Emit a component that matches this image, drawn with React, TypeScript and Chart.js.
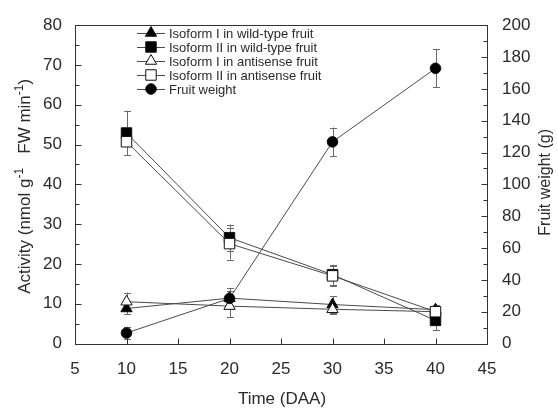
import React, { useEffect, useRef } from 'react';
import { Chart, registerables } from 'chart.js';
import { drawPoint } from 'chart.js/helpers';

Chart.register(...registerables);

// ---- data ----
const days = [10, 20, 30, 40];
const isoIWild = [8.8, 11.4, 9.8, 8.5];
const isoIWildErr = [1.5, 2.6, 2.1, 1.3];
const isoIIWild = [52.9, 26.6, 17.3, 5.8];
const isoIIWildErr = [5.6, 3.3, 2.5, 2.5];
const isoIAnti = [10.5, 9.4, 8.6, 8.0];
const isoIAntiErr = [2.3, 2.8, 1.3, 1.5];
const isoIIAnti = [50.7, 25.1, 17.0, 8.0];
const isoIIAntiErr = [3.3, 4.0, 2.6, 1.8];
const fruitWeight = [6.6, 28.3, 126.7, 172.9];
const fruitWeightErr = [4, 5, 9, 12];

const seriesNames = [
  'Isoform I in wild-type fruit',
  'Isoform II in wild-type fruit',
  'Isoform I in antisense fruit',
  'Isoform II in antisense fruit',
  'Fruit weight',
];

const FONT = "'Liberation Sans', Arial, Helvetica, sans-serif";
const TEXT = '#2a2a2a';
const LINE = '#4a4a4a';

const toXY = (vals: number[]) => vals.map((v, i) => ({ x: days[i], y: v }));

const errorBars = {
  id: 'errorBars',
  beforeDatasetsDraw(chart: any) {
    const { ctx } = chart;
    ctx.save();
    ctx.strokeStyle = '#6a6a6a';
    ctx.lineWidth = 1;
    chart.data.datasets.forEach((ds: any) => {
      const yScale = chart.scales[ds.yAxisID];
      const xScale = chart.scales.x;
      ds.data.forEach((p: any, i: number) => {
        const e = ds.errors[i];
        const px = Math.round(xScale.getPixelForValue(p.x)) + 0.5;
        const y1 = yScale.getPixelForValue(p.y + e);
        const y2 = yScale.getPixelForValue(p.y - e);
        ctx.beginPath();
        ctx.moveTo(px, y1);
        ctx.lineTo(px, y2);
        ctx.moveTo(px - 3.5, Math.round(y1) + 0.5);
        ctx.lineTo(px + 3.5, Math.round(y1) + 0.5);
        ctx.moveTo(px - 3.5, Math.round(y2) + 0.5);
        ctx.lineTo(px + 3.5, Math.round(y2) + 0.5);
        ctx.stroke();
      });
    });
    ctx.restore();
  },
};

const frameAndTitles = {
  id: 'frameAndTitles',
  afterDraw(chart: any) {
    const { ctx, chartArea, scales } = chart;
    const { left, right, top, bottom } = chartArea;
    ctx.save();
    ctx.strokeStyle = '#333';
    ctx.lineWidth = 1;
    const L = Math.round(left) + 0.5, R = Math.round(right) + 0.5;
    const T = Math.round(top) + 0.5, B = Math.round(bottom) + 0.5;
    ctx.strokeRect(L, T, R - L, B - T);
    ctx.beginPath();
    // x ticks (inward)
    scales.x.ticks.forEach((t: any) => {
      const px = Math.round(scales.x.getPixelForValue(t.value)) + 0.5;
      if (px <= L + 1 || px >= R - 1) return;
      ctx.moveTo(px, B);
      ctx.lineTo(px, B - 6);
    });
    // left y ticks major + minor
    const yt = scales.y.ticks.map((t: any) => t.value);
    for (let i = 0; i < yt.length; i++) {
      const v = yt[i];
      const py = Math.round(scales.y.getPixelForValue(v)) + 0.5;
      ctx.moveTo(L, py); ctx.lineTo(L + 6, py);
      if (i < yt.length - 1) {
        const m = (yt[i] + yt[i + 1]) / 2;
        const pm = Math.round(scales.y.getPixelForValue(m)) + 0.5;
        ctx.moveTo(L, pm); ctx.lineTo(L + 4, pm);
      }
    }
    const rt = scales.y1.ticks.map((t: any) => t.value);
    for (let i = 0; i < rt.length; i++) {
      const py = Math.round(scales.y1.getPixelForValue(rt[i])) + 0.5;
      ctx.moveTo(R, py); ctx.lineTo(R - 6, py);
      if (i < rt.length - 1) {
        const m = (rt[i] + rt[i + 1]) / 2;
        const pm = Math.round(scales.y1.getPixelForValue(m)) + 0.5;
        ctx.moveTo(R, pm); ctx.lineTo(R - 4, pm);
      }
    }
    ctx.stroke();

    // titles
    ctx.fillStyle = TEXT;
    ctx.font = `17px ${FONT}`;
    ctx.textAlign = 'center';
    ctx.textBaseline = 'alphabetic';
    ctx.fillText('Time (DAA)', (left + right) / 2 + 1, 404);

    // left title with superscripts
    const parts: [string, boolean][] = [
      ['Activity (nmol g', false],
      ['-1', true],
      ['   FW min', false],
      ['-1', true],
      [')', false],
    ];
    const normal = `17px ${FONT}`;
    const sup = `12px ${FONT}`;
    let total = 0;
    parts.forEach(([s, isSup]) => {
      ctx.font = isSup ? sup : normal;
      total += ctx.measureText(s).width;
    });
    ctx.save();
    ctx.translate(29.5, (top + bottom) / 2 + 2);
    ctx.rotate(-Math.PI / 2);
    ctx.textAlign = 'left';
    let cx = -total / 2;
    parts.forEach(([s, isSup]) => {
      ctx.font = isSup ? sup : normal;
      ctx.fillText(s, cx, isSup ? -7 : 0);
      cx += ctx.measureText(s).width;
    });
    ctx.restore();

    // right title
    ctx.save();
    ctx.translate(550, (top + bottom) / 2 - 2);
    ctx.rotate(-Math.PI / 2);
    ctx.font = `16px ${FONT}`;
    ctx.textAlign = 'center';
    ctx.fillText('Fruit weight (g)', 0, 0);
    ctx.restore();

    // legend
    ctx.font = `13px ${FONT}`;
    ctx.textAlign = 'left';
    ctx.textBaseline = 'middle';
    chart.data.datasets.forEach((ds: any, i: number) => {
      const y = 33 + 14 * i;
      ctx.strokeStyle = LINE;
      ctx.lineWidth = 1;
      ctx.beginPath();
      ctx.moveTo(137, y + 0.5);
      ctx.lineTo(165, y + 0.5);
      ctx.stroke();
      ctx.fillStyle = ds.pointBackgroundColor;
      ctx.strokeStyle = '#111';
      drawPoint(ctx, { pointStyle: ds.pointStyle, radius: ds.pointRadius, borderWidth: 1, rotation: 0 }, 151, y);
      ctx.fillStyle = TEXT;
      ctx.fillText(ds.label, 169, y + 1);
    });
    ctx.restore();
  },
};

export default function App() {
  const ref = useRef<HTMLCanvasElement | null>(null);
  useEffect(() => {
    document.body.style.margin = '0';
    const canvas = ref.current;
    if (!canvas) return;
    const mk = (label: string, vals: number[], errs: number[], style: string, filled: boolean, radius: number, axis: string, order: number) => ({
      label,
      data: toXY(vals),
      errors: errs,
      yAxisID: axis,
      order,
      borderColor: LINE,
      borderWidth: 1,
      pointStyle: style,
      pointRadius: radius,
      pointBackgroundColor: filled ? '#000' : '#fff',
      pointBorderColor: '#111',
      pointBorderWidth: 1,
      fill: false,
      tension: 0,
    });
    const tickFont = { family: FONT, size: 17 };
    const chart = new Chart(canvas, {
      type: 'line',
      data: {
        datasets: [
          mk(seriesNames[0], isoIWild, isoIWildErr, 'triangle', true, 6.5, 'y', 4),
          mk(seriesNames[1], isoIIWild, isoIIWildErr, 'rect', true, 7.4, 'y', 2),
          mk(seriesNames[2], isoIAnti, isoIAntiErr, 'triangle', false, 6.5, 'y', 3),
          mk(seriesNames[3], isoIIAnti, isoIIAntiErr, 'rect', false, 7.4, 'y', 1),
          mk(seriesNames[4], fruitWeight, fruitWeightErr, 'circle', true, 5.3, 'y1', 0),
        ] as any,
      },
      options: {
        animation: false,
        responsive: false,
        layout: { padding: { top: 17.5, left: 0, right: 0, bottom: 0 } },
        plugins: { legend: { display: false }, tooltip: { enabled: false } },
        scales: {
          x: {
            type: 'linear',
            min: 5,
            max: 45,
            ticks: { stepSize: 5, font: tickFont, color: TEXT, padding: 16, maxRotation: 0, autoSkip: false },
            grid: { display: false, drawTicks: false },
            border: { display: false },
            afterFit: (s: any) => { s.height = 64.5; },
          },
          y: {
            position: 'left',
            min: 0,
            max: 80,
            ticks: { stepSize: 10, font: tickFont, color: TEXT, padding: 13 },
            grid: { display: false, drawTicks: false },
            border: { display: false },
            afterFit: (s: any) => { s.width = 75; },
          },
          y1: {
            position: 'right',
            min: 0,
            max: 200,
            ticks: { stepSize: 20, font: tickFont, color: TEXT, padding: 15 },
            grid: { display: false, drawTicks: false },
            border: { display: false },
            afterFit: (s: any) => { s.width = 71; },
          },
        },
      } as any,
      plugins: [errorBars, frameAndTitles],
    });
    return () => chart.destroy();
  }, []);
  return (
    <div style={{ width: 558, height: 408 }}>
      <canvas ref={ref} width={558} height={408} style={{ display: 'block' }} />
    </div>
  );
}
